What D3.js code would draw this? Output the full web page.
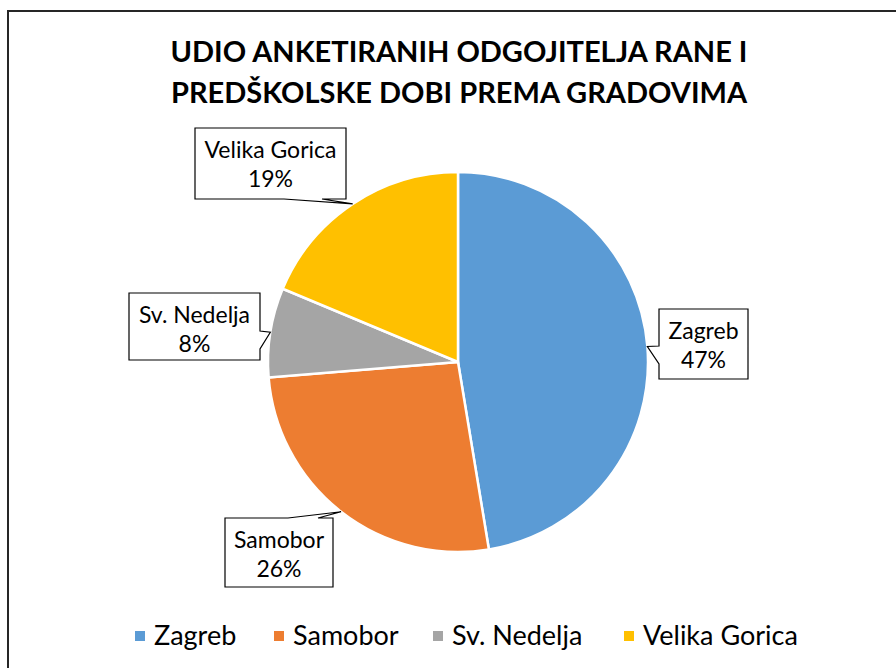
<!DOCTYPE html>
<meta charset="utf-8">
<script src="https://d3js.org/d3.v7.min.js"></script>
<style>
  body { margin: 0; background: #fff; }
  text { font-family: Lato, "Open Sans", sans-serif; fill: #000; }
</style>
<div id="chart"></div>
<script>
// data
var cities = ["Zagreb", "Samobor", "Sv. Nedelja", "Velika Gorica"];
var shares = [47.4, 26.3, 7.6, 18.7];
var colors = ["#5B9BD5", "#ED7D31", "#A5A5A5", "#FFC000"];
var titleLines = ["UDIO ANKETIRANIH ODGOJITELJA RANE I", "PREDŠKOLSKE DOBI PREMA GRADOVIMA"];

var width = 896, height = 668;
var cx = 458, cy = 362, radius = 190;

// callout boxes (layout only)
var boxes = {
  "Zagreb":        { x: 659, y: 309, w: 89,  h: 70, side: "left",   a: 346, b: 364 },
  "Samobor":       { x: 225, y: 518, w: 108, h: 69, side: "top",    a: 288, b: 318 },
  "Sv. Nedelja":   { x: 129, y: 293, w: 131, h: 67, side: "right",  a: 331, b: 349 },
  "Velika Gorica": { x: 195, y: 128, w: 151, h: 71, side: "bottom", a: 284, b: 322 }
};

var svg = d3.select("#chart").append("svg")
    .attr("width", width)
    .attr("height", height);

// outer frame
svg.append("rect")
    .attr("x", 8).attr("y", 11)
    .attr("width", 900).attr("height", 700)
    .attr("fill", "none")
    .attr("stroke", "#262626")
    .attr("stroke-width", 2);

// title
svg.append("g").selectAll("text")
    .data(titleLines)
    .enter().append("text")
    .attr("x", 459)
    .attr("y", function(d, i) { return 62 + i * 41; })
    .attr("text-anchor", "middle")
    .style("font-weight", "bold")
    .style("font-size", "29px")
    .attr("fill", "#000")
    .text(function(d) { return d; });

var data = cities.map(function(c, i) { return { city: c, value: shares[i], color: colors[i] }; });

var pie = d3.pie().sort(null).value(function(d) { return d.value; });
var arc = d3.arc().innerRadius(0).outerRadius(radius);
var edge = d3.arc().innerRadius(radius).outerRadius(radius);

var g = svg.append("g").attr("transform", "translate(" + cx + "," + cy + ")");
var arcs = pie(data);

g.selectAll("path")
    .data(arcs)
    .enter().append("path")
    .attr("d", arc)
    .attr("fill", function(d) { return d.data.color; })
    .attr("stroke", "#fff")
    .attr("stroke-width", 2.5);

function callout(b, tip) {
  var x0 = b.x, y0 = b.y, x1 = b.x + b.w, y1 = b.y + b.h;
  var p = d3.path();
  p.moveTo(x0, y0);
  if (b.side == "top") { p.lineTo(b.a, y0); p.lineTo(tip[0], tip[1]); p.lineTo(b.b, y0); }
  p.lineTo(x1, y0);
  if (b.side == "right") { p.lineTo(x1, b.a); p.lineTo(tip[0], tip[1]); p.lineTo(x1, b.b); }
  p.lineTo(x1, y1);
  if (b.side == "bottom") { p.lineTo(b.b, y1); p.lineTo(tip[0], tip[1]); p.lineTo(b.a, y1); }
  p.lineTo(x0, y1);
  if (b.side == "left") { p.lineTo(x0, b.b); p.lineTo(tip[0], tip[1]); p.lineTo(x0, b.a); }
  p.closePath();
  return p.toString();
}

var labels = svg.append("g").selectAll("g")
    .data(arcs)
    .enter().append("g");

labels.append("path")
    .attr("d", function(d) {
      var c = edge.centroid(d);
      return callout(boxes[d.data.city], [c[0] + cx, c[1] + cy]);
    })
    .attr("fill", "#fff")
    .attr("stroke", "#000")
    .attr("stroke-width", 1.2);

labels.append("text")
    .attr("x", function(d) { var b = boxes[d.data.city]; return b.x + b.w / 2; })
    .attr("y", function(d) { return boxes[d.data.city].y + 30; })
    .attr("text-anchor", "middle")
    .style("font-size", "23px")
    .text(function(d) { return d.data.city; });

labels.append("text")
    .attr("x", function(d) { var b = boxes[d.data.city]; return b.x + b.w / 2; })
    .attr("y", function(d) { return boxes[d.data.city].y + 59; })
    .attr("text-anchor", "middle")
    .style("font-size", "23px")
    .text(function(d) { return Math.round(d.data.value) + "%"; });

// legend
var legendX = [135, 274, 433, 624];
var legend = svg.append("g").selectAll("g")
    .data(data)
    .enter().append("g")
    .attr("transform", function(d, i) { return "translate(" + legendX[i] + ",631)"; });

legend.append("rect")
    .attr("width", 10).attr("height", 10)
    .attr("fill", function(d) { return d.color; });

legend.append("text")
    .attr("x", 19).attr("y", 14)
    .style("font-size", "27px")
    .text(function(d) { return d.city; });
</script>
